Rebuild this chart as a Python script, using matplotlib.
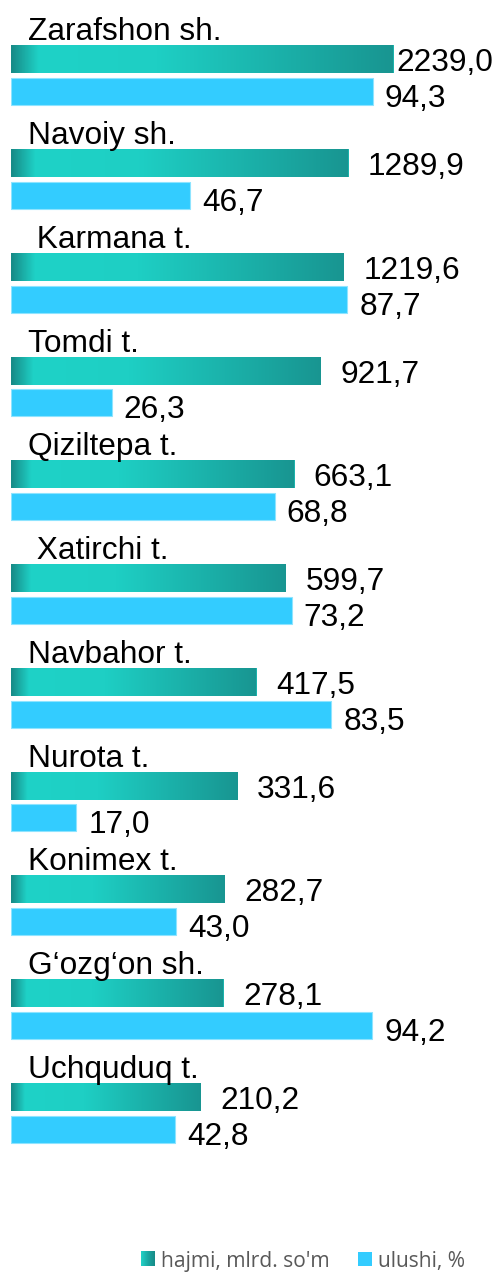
import matplotlib
matplotlib.use('Agg')
import matplotlib.pyplot as plt
import matplotlib.transforms as mtransforms
from matplotlib.colors import LinearSegmentedColormap
from matplotlib.patches import Patch
from matplotlib.legend_handler import HandlerBase
from matplotlib.image import BboxImage
import numpy as np

# data
tumanlar = ['Zarafshon sh.', 'Navoiy sh.', ' Karmana t.', 'Tomdi t.', 'Qiziltepa t.',
            ' Xatirchi t.', 'Navbahor t.', 'Nurota t.', 'Konimex t.', 'G‘ozg‘on sh.', 'Uchquduq t.']
hajmi = [2239.0, 1289.9, 1219.6, 921.7, 663.1, 599.7, 417.5, 331.6, 282.7, 278.1, 210.2]
ulushi = [94.3, 46.7, 87.7, 26.3, 68.8, 73.2, 83.5, 17.0, 43.0, 94.2, 42.8]
legend_labels = ["hajmi, mlrd. so'm", 'ulushi, %']

plt.rcParams['font.family'] = ['Liberation Sans', 'DejaVu Sans']

W, H = 499, 1273
fig = plt.figure(figsize=(W / 100, H / 100), dpi=100)
fig.patch.set_facecolor('white')

# osi: chap 11px dan o'ngga
ax = fig.add_axes([11 / W, 0, 1 - 11 / W, 1])
ax2 = ax.twiny()

y = np.arange(len(tumanlar))
ymin, ymax = -75.5 / 103.75, (H - 75.5) / 103.75
xmin_log, xmax_log = 20.36, 8156

ax.set_xscale('log')
ax.set_xlim(xmin_log, xmax_log)
ax.set_ylim(ymax, ymin)
ax2.set_xlim(0, 488 / 3.835)
ax2.set_ylim(ymax, ymin)

teal_y = y - 0.155
blue_y = y + 0.155
teal_h = 0.27
blue_h = 0.26

ax.barh(teal_y, [v - xmin_log for v in hajmi], left=xmin_log, height=teal_h,
        color='#1cb3ac', zorder=2)
ax2.barh(blue_y, ulushi, height=blue_h, color='#33ccff',
         edgecolor='#8ee4ff', linewidth=0.8, zorder=2)

# gradient fill for teal bars
cmap = LinearSegmentedColormap.from_list('teal', [
    (0.0, '#178c88'), (0.07, '#1fd2c7'), (0.38, '#1ecfc4'), (1.0, '#189591')])
cmap_leg = LinearSegmentedColormap.from_list('teal_leg', ['#22d3c8', '#1aa8a2', '#178a87'])
grad = np.linspace(0, 1, 256).reshape(1, -1)
blend = mtransforms.blended_transform_factory(ax.transAxes, ax.transData)
to_axes = ax.transAxes.inverted()
for v, yy in zip(hajmi, teal_y):
    xend = to_axes.transform(ax.transData.transform((v, yy)))[0]
    ax.imshow(grad, cmap=cmap, aspect='auto', transform=blend, zorder=3,
              extent=(0, xend, yy + teal_h / 2, yy - teal_h / 2))
ax.set_xlim(xmin_log, xmax_log)
ax.set_ylim(ymax, ymin)

fs = 22.8

# kategoriya nomlari
for name, yy in zip(tumanlar, teal_y):
    ax.text(17 / 488, yy - teal_h / 2 - 0.048, name, transform=blend,
            fontsize=fs, va='baseline', ha='left', color='black')

# qiymatlar
def fmt(v):
    return f'{v:.1f}'.replace('.', ',')

for v, yy in zip(hajmi, teal_y):
    gap = 2.2 if v == max(hajmi) else 13.7
    ax.annotate(fmt(v), (v, yy), xytext=(gap, -8.6), textcoords='offset points',
                fontsize=fs, va='baseline', ha='left', zorder=4)
for v, yy in zip(ulushi, blue_y):
    ax2.annotate(fmt(v), (v, yy), xytext=(8.6, -11.2), textcoords='offset points',
                 fontsize=fs, va='baseline', ha='left', zorder=4)

for a in (ax, ax2):
    a.axis('off')


class GradHandler(HandlerBase):
    def create_artists(self, legend, orig_handle, xdescent, ydescent,
                       width, height, fontsize, trans):
        bb = mtransforms.TransformedBbox(
            mtransforms.Bbox.from_bounds(-xdescent, -ydescent, width, height), trans)
        im = BboxImage(bb, cmap=cmap_leg, interpolation='bilinear')
        im.set_data(grad)
        return [im]


teal_handle = Patch(facecolor='#1cb0aa')
fig.legend(handles=[teal_handle, Patch(facecolor='#33ccff')],
           labels=legend_labels, loc='center', bbox_to_anchor=(303 / W, 12 / H),
           ncol=2, frameon=False, prop={'family': 'Open Sans', 'size': 15.1},
           labelcolor='#595959', handlelength=0.667, handleheight=0.667,
           handletextpad=0.29, columnspacing=1.38, borderaxespad=0, borderpad=0,
           handler_map={teal_handle: GradHandler()})

fig.savefig('out.png', dpi=100)
